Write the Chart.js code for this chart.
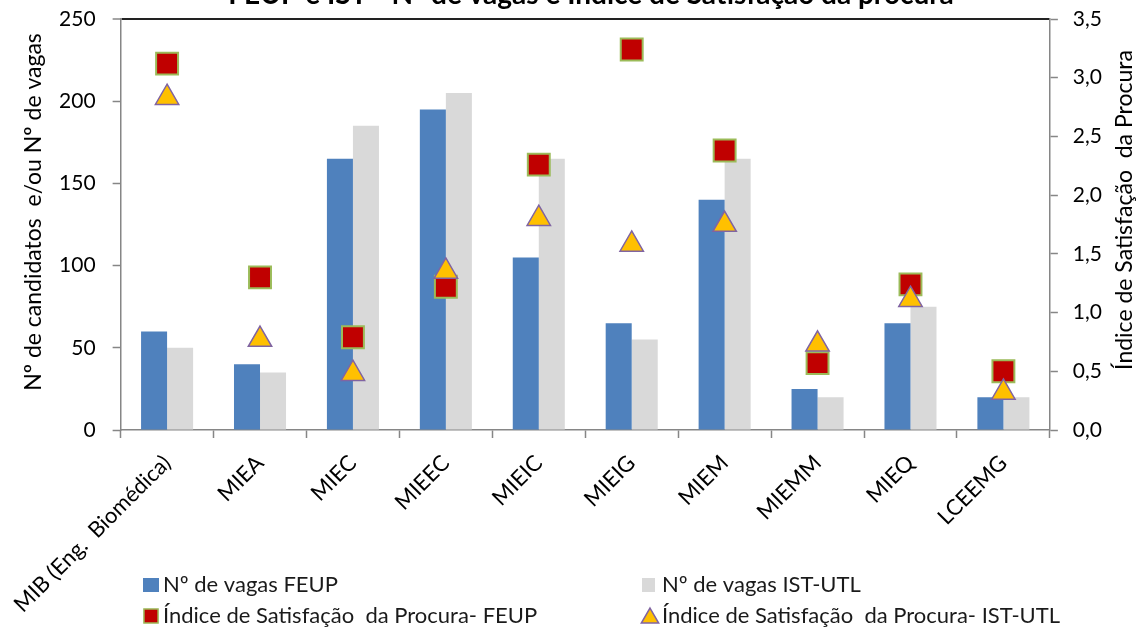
<!DOCTYPE html>
<html lang="pt">
<head>
<meta charset="utf-8">
<title>FEUP e IST - Nº de vagas e Índice de Satisfação da procura</title>
<script src="https://cdn.jsdelivr.net/npm/chart.js@4.4.1/dist/chart.umd.min.js"></script>
<style>
  html, body { margin: 0; padding: 0; background: #fff; overflow: hidden; }
  #moldura { position: absolute; left: 0; top: 0; width: 1143px; height: 630px; }
</style>
</head>
<body>
<div id="moldura"><canvas id="grafico"></canvas></div>
<script>
const cursos = ['MIB (Eng.  Biomédica)', 'MIEA', 'MIEC', 'MIEEC', 'MIEIC', 'MIEIG', 'MIEM', 'MIEMM', 'MIEQ', 'LCEEMG'];
const vagasFEUP = [60, 40, 165, 195, 105, 65, 140, 25, 65, 20];
const vagasIST = [50, 35, 185, 205, 165, 55, 165, 20, 75, 20];
const indiceFEUP = [3.12, 1.30, 0.79, 1.22, 2.26, 3.24, 2.38, 0.57, 1.24, 0.50];
const indiceIST = [2.83, 0.77, 0.48, 1.35, 1.80, 1.58, 1.75, 0.73, 1.11, 0.32];
const ticksVagas = [0, 50, 100, 150, 200, 250];
const ticksIndice = [0, 0.5, 1, 1.5, 2, 2.5, 3, 3.5];

const titulo = 'FEUP e IST - Nº de vagas e Índice de Satisfação da procura';
const tituloEsq = 'Nº de candidatos  e/ou Nº de vagas';
const tituloDir = 'Índice de Satisfação  da Procura';
const fonte = 'Lato, "Open Sans", sans-serif';
const corEixo = '#868686';

function textoVertical(ctx, texto, x, y) {
  ctx.save();
  ctx.translate(x, y);
  ctx.rotate(-Math.PI / 2);
  ctx.fillText(texto, 0, 0);
  ctx.restore();
}

// título (cortado no topo como no original), títulos dos eixos e legenda em duas colunas
const extras = {
  id: 'extras',
  afterDraw(chart) {
    const ctx = chart.ctx;
    ctx.save();
    ctx.fillStyle = '#000';
    ctx.font = 'bold 28px ' + fonte;
    ctx.textAlign = 'center';
    ctx.textBaseline = 'alphabetic';
    ctx.fillText(titulo, 591, 4);

    ctx.font = '23px ' + fonte;
    ctx.textBaseline = 'middle';
    textoVertical(ctx, tituloEsq, 34, 212);
    textoVertical(ctx, tituloDir, 1125, 210);
    ctx.restore();

    const slots = [[143, 585], [642, 585], [143, 616], [642, 616]];
    chart.data.datasets.forEach((ds, i) => {
      const x = slots[i][0], y = slots[i][1];
      ctx.save();
      if (ds.type === 'line') {
        ctx.fillStyle = ds.backgroundColor;
        ctx.strokeStyle = ds.borderColor;
        ctx.lineWidth = 1.5;
        Chart.helpers.drawPoint(ctx, { pointStyle: ds.pointStyle, rotation: 0, borderWidth: 1.5, radius: 10 },
          x + 8, y + (ds.pointStyle === 'triangle' ? 2 : 0));
      } else {
        ctx.fillStyle = ds.backgroundColor;
        ctx.fillRect(x, y - 7, ds.label.indexOf('IST') > 0 ? 13 : 16, 14);
      }
      ctx.fillStyle = '#1a1a1a';
      ctx.font = '22px ' + fonte;
      ctx.textAlign = 'left';
      ctx.textBaseline = 'middle';
      ctx.fillText(ds.label, x + 20, y);
      ctx.restore();
    });
  }
};

const semPaddingVertical = ax => { ax.paddingTop = 0; ax.paddingBottom = 0; };

new Chart(document.getElementById('grafico'), {
  type: 'bar',
  data: {
    labels: cursos,
    datasets: [
      { label: 'Nº de vagas FEUP', data: vagasFEUP, backgroundColor: '#4f81bd', yAxisID: 'y', order: 2 },
      { label: 'Nº de vagas IST-UTL', data: vagasIST, backgroundColor: '#d9d9d9', yAxisID: 'y', order: 3 },
      { type: 'line', label: 'Índice de Satisfação  da Procura- FEUP', data: indiceFEUP, yAxisID: 'y1',
        showLine: false, pointStyle: 'rect', pointRadius: 15.5, pointHoverRadius: 15.5,
        backgroundColor: '#c00000', borderColor: '#9bbb59', pointBorderWidth: 2, order: 1 },
      { type: 'line', label: 'Índice de Satisfação  da Procura- IST-UTL', data: indiceIST, yAxisID: 'y1',
        showLine: false, pointStyle: 'triangle', pointRadius: 13.5, pointHoverRadius: 13.5,
        backgroundColor: '#ffc000', borderColor: '#8064a2', pointBorderWidth: 1.5, order: 0 }
    ]
  },
  options: {
    responsive: true,
    maintainAspectRatio: false,
    animation: false,
    datasets: { bar: { categoryPercentage: 0.56, barPercentage: 1.0 } },
    layout: { padding: { left: 41, right: 26, top: 19, bottom: 0.2 } },
    plugins: {
      legend: { display: false },
      tooltip: { enabled: false },
      title: { display: false }
    },
    scales: {
      x: {
        offset: true,
        grid: { offset: true, drawOnChartArea: false, drawTicks: true, tickLength: 8, tickColor: corEixo, tickWidth: 1.5 },
        border: { color: corEixo, width: 1.5 },
        ticks: { color: '#000', font: { family: fonte, size: 22 }, minRotation: 45, maxRotation: 45, padding: 12, autoSkip: false }
      },
      y: {
        position: 'left',
        min: 0, max: 250,
        afterBuildTicks: ax => { ax.ticks = ticksVagas.map(v => ({ value: v })); },
        afterFit: semPaddingVertical,
        grid: {
          color: c => c.tick && c.tick.value === 250 ? '#222' : 'rgba(0,0,0,0)',
          lineWidth: c => c.tick && c.tick.value === 250 ? 2 : 1,
          tickColor: corEixo, tickLength: 8, tickWidth: 1.5
        },
        border: { color: corEixo, width: 1.5 },
        ticks: { color: '#000', font: { family: fonte, size: 21 }, padding: 17 }
      },
      y1: {
        position: 'right',
        min: 0, max: 3.5,
        afterBuildTicks: ax => { ax.ticks = ticksIndice.map(v => ({ value: v })); },
        afterFit: semPaddingVertical,
        grid: { drawOnChartArea: false, tickColor: corEixo, tickLength: 8, tickWidth: 1.5 },
        border: { color: corEixo, width: 1.5 },
        ticks: { color: '#000', font: { family: fonte, size: 21 }, padding: 15,
                 callback: v => v.toFixed(1).replace('.', ',') }
      }
    }
  },
  plugins: [extras]
});
</script>
</body>
</html>
